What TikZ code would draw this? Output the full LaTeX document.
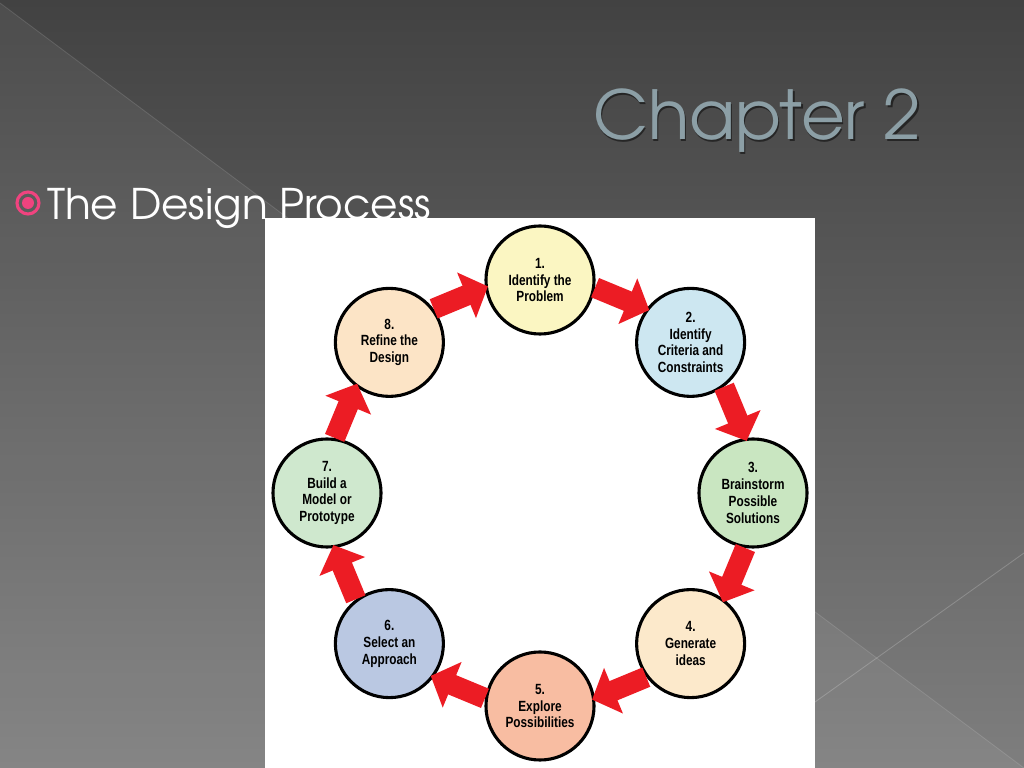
\documentclass[tikz,border=0pt]{standalone}
\usepackage{fontspec}
\usetikzlibrary{calc,arrows.meta}
\newfontfamily\gothic[Extension=.otf]{texgyreadventor-regular}
\newfontfamily\stepfont[FakeStretch=0.8]{Liberation Sans}
\definecolor{bgtop}{HTML}{424242}
\definecolor{bgbot}{HTML}{7E7E7E}
\definecolor{titlegray}{HTML}{8C9FA6}
\definecolor{bulletpink}{HTML}{F0437F}
\definecolor{flowred}{HTML}{EC1C24}
\definecolor{c1}{HTML}{FBF6C2}
\definecolor{c2}{HTML}{CDE7F1}
\definecolor{c3}{HTML}{C9E6C1}
\definecolor{c4}{HTML}{FCE9CB}
\definecolor{c5}{HTML}{F8BDA2}
\definecolor{c6}{HTML}{BAC8E2}
\definecolor{c7}{HTML}{CFE8CE}
\definecolor{c8}{HTML}{FCE4C6}
\begin{document}
\begin{tikzpicture}[x=0.025cm,y=0.025cm,
  stage/.style={circle,draw=black,line width=2.2pt,minimum size=2.7cm,inner sep=0pt,align=center,
    font=\stepfont\bfseries\fontsize{10.5}{12}\selectfont},
  flow/.style={draw=flowred,line width=0.52cm,-{Triangle[length=0.58cm,width=1.2cm]}},
  bullet/.style={circle,draw=bulletpink,line width=2.2pt,minimum size=0.55cm,inner sep=0pt}]
\useasboundingbox (0,0) rectangle (1024,768);
% slide background
\shade[top color=bgtop,bottom color=bgbot] (0,0) rectangle (1024,768);
\fill[white,opacity=.06] (0,765) -- (1024,0) -- (0,0) -- cycle;
\draw[white,opacity=.12,line width=.6pt] (0,765) -- (1024,0);
\draw[white,opacity=.2,line width=.6pt] (815,66) -- (1024,215);
\fill[white] (265,0) rectangle (815,550);
% titles
\node[anchor=base west,inner sep=0,text=black,opacity=.5,font=\gothic\fontsize{48}{56}\selectfont] at (594.5,626.5) {Chapter 2};
\node[anchor=base west,inner sep=0,text=titlegray,font=\gothic\fontsize{48}{56}\selectfont] (title) at (593,628) {Chapter 2};
\node[bullet] (dot) at (28,565) {};
\fill[bulletpink] (dot.center) circle (6);
\node[anchor=base west,inner sep=0,text=white,font=\gothic\fontsize{30}{36}\selectfont] (topic) at (47,548) {The Design Process};
% the eight steps
\coordinate (ctr) at (540,275);
\node[stage,fill=c1] (s1) at ($(ctr)+(90:213)$) {1.\\Identify the\\Problem};
\node[stage,fill=c2] (s2) at ($(ctr)+(45:213)$) {2.\\Identify\\Criteria and\\Constraints};
\node[stage,fill=c3] (s3) at ($(ctr)+(0:213)$) {3.\\Brainstorm\\Possible\\Solutions};
\node[stage,fill=c4] (s4) at ($(ctr)+(-45:213)$) {4.\\Generate\\ideas};
\node[stage,fill=c5] (s5) at ($(ctr)+(-90:213)$) {5.\\Explore\\Possibilities};
\node[stage,fill=c6] (s6) at ($(ctr)+(-135:213)$) {6.\\Select an\\Approach};
\node[stage,fill=c7] (s7) at ($(ctr)+(180:213)$) {7.\\Build a\\Model or\\Prototype};
\node[stage,fill=c8] (s8) at ($(ctr)+(135:213)$) {8.\\Refine the\\Design};
% block arrows
\draw[flow] ($(s1)!.33!(s2)!0.35cm!90:(s2)$) -- ($(s1)!.69!(s2)!0.35cm!90:(s2)$);
\draw[flow] ($(s2)!.33!(s3)!0.35cm!90:(s3)$) -- ($(s2)!.69!(s3)!0.35cm!90:(s3)$);
\draw[flow] ($(s3)!.33!(s4)!0.35cm!90:(s4)$) -- ($(s3)!.69!(s4)!0.35cm!90:(s4)$);
\draw[flow] ($(s4)!.33!(s5)!0.35cm!90:(s5)$) -- ($(s4)!.69!(s5)!0.35cm!90:(s5)$);
\draw[flow] ($(s5)!.33!(s6)!0.35cm!90:(s6)$) -- ($(s5)!.69!(s6)!0.35cm!90:(s6)$);
\draw[flow] ($(s6)!.33!(s7)!0.35cm!90:(s7)$) -- ($(s6)!.69!(s7)!0.35cm!90:(s7)$);
\draw[flow] ($(s7)!.33!(s8)!0.35cm!90:(s8)$) -- ($(s7)!.69!(s8)!0.35cm!90:(s8)$);
\draw[flow] ($(s8)!.33!(s1)!0.35cm!90:(s1)$) -- ($(s8)!.69!(s1)!0.35cm!90:(s1)$);
\end{tikzpicture}
\end{document}
